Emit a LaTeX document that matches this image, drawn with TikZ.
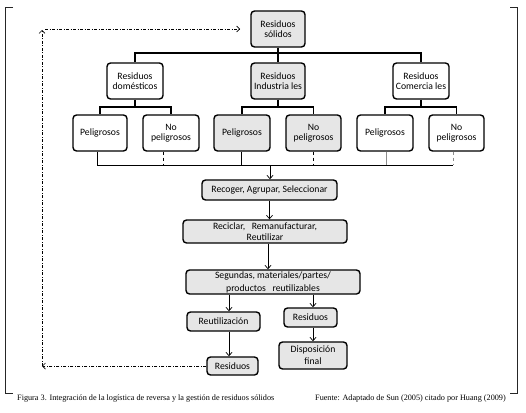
\documentclass[tikz,border=0pt]{standalone}
\usepackage{fontspec}
\setmainfont{Liberation Serif}
\newfontfamily\boxfont{Carlito}
\usetikzlibrary{arrows.meta,calc}
\definecolor{boxgray}{RGB}{230,230,230}
\begin{document}
\begin{tikzpicture}[x=1pt,y=-1pt,
  bx/.style={draw=black,line width=1.4pt,rounded corners=3.5pt,inner sep=0pt,
    align=center,font=\boxfont\fontsize{9.7}{10}\selectfont,fill=white},
  gr/.style={bx,fill=boxgray},
  tree/.style={line width=1.4pt},
  thinline/.style={line width=0.7pt},
  arr/.style={line width=0.7pt,-{Straight Barb[length=3.5pt,width=6pt]}},
  fb/.style={line width=0.7pt,dash pattern=on 3pt off 1.5pt on 1pt off 1.5pt},
  fba/.style={fb,-{Straight Barb[length=3pt,width=6pt]}},
  captext/.style={font=\fontsize{8.2}{9}\selectfont,inner sep=0pt}]
\useasboundingbox (0,0) rectangle (526,412);
% frame
\draw[line width=0.6pt,black!85] (13,7) -- (5.5,7) -- (5.5,393) -- (13,393);
\draw[line width=0.6pt,black!85] (510,7) -- (517,7) -- (517,393) -- (510,393);
% nodes
\node[gr,minimum width=54,minimum height=36] (sol) at (278,29) {Residuos\\sólidos};
\node[bx,minimum width=56,minimum height=36] (dom) at (135,81) {Residuos\\domésticos};
\node[gr,minimum width=54,minimum height=36] (ind) at (278,81) {Residuos\\Industria les};
\node[bx,minimum width=56,minimum height=36] (com) at (421,81) {Residuos\\Comercia les};
\node[bx,minimum width=54,minimum height=36] (p1) at (100,133) {Peligrosos};
\node[bx,minimum width=56,minimum height=36] (n1) at (171,133) {No\\peligrosos};
\node[gr,minimum width=56,minimum height=36] (p2) at (242,133) {Peligrosos};
\node[gr,minimum width=55,minimum height=36] (n2) at (313.5,133) {No\\peligrosos};
\node[bx,minimum width=56,minimum height=36] (p3) at (385,133) {Peligrosos};
\node[bx,minimum width=55,minimum height=36] (n3) at (456.5,133) {No\\peligrosos};
\node[gr,minimum width=135,minimum height=20] (rec) at (269.5,190) {Recoger, Agrupar, Seleccionar};
\node[gr,minimum width=164,minimum height=23,font=\boxfont\fontsize{9.7}{11.6}\selectfont] (rcl) at (265,231.5) {Reciclar,\ \ \ Remanufacturar,\\Reutilizar};
\node[gr,minimum width=174,minimum height=24,font=\boxfont\fontsize{9.7}{13}\selectfont] (seg) at (273,282) {Segundas, materiales/partes/\\productos\ \ \ reutilizables};
\node[gr,minimum width=73,minimum height=19] (reu) at (223.5,321.5) {Reutilización};
\node[gr,minimum width=53,minimum height=19] (res1) at (310.5,317.5) {Residuos};
\node[gr,minimum width=51,minimum height=18] (res2) at (232.5,366) {Residuos};
\node[gr,minimum width=68,minimum height=27,font=\boxfont\fontsize{9.7}{11.7}\selectfont] (dis) at (313,355.5) {Disposición\\final};
% tree connectors
\coordinate (b1) at (278,53);
\draw[tree] (sol) -- (b1);
\draw[tree] (b1) -| (dom);
\draw[tree] (b1) -| (com);
\draw[tree] (b1) -- (ind);
\coordinate (b2) at (135,107);
\coordinate (b3) at (278,107);
\coordinate (b4) at (421,107);
\draw[tree] (dom) -- (b2) -| (p1);
\draw[tree] (b2) -| (n1);
\draw[tree] (ind) -- (b3) -| (p2);
\draw[tree] (b3) -| (n2);
\draw[tree] (com) -- (b4) -| (p3);
\draw[tree] (b4) -| (n3);
% collecting bus
\coordinate (q1) at (97,165);
\coordinate (q2) at (163,165);
\coordinate (q3) at (241,165);
\coordinate (q4) at (313,165);
\coordinate (q5) at (386,165);
\coordinate (q6) at (453,165);
\coordinate (cm) at (270,165);
\draw[thinline] (p1.south -| q1) -- (q1) -- (q6);
\draw[thinline,dashed] (n1.south -| q2) -- (q2);
\draw[thinline] (p2.south -| q3) -- (q3);
\draw[thinline,dashed] (n2.south -| q4) -- (q4);
\draw[thinline,black!45] (p3.south -| q5) -- (q5);
\draw[thinline,black!45,dashed] (n3.south -| q6) -- (q6);
\draw[arr] (cm) -- (cm |- rec.north);
% flow arrows
\coordinate (a1) at (268,0);
\coordinate (a2) at (229,0);
\coordinate (a3) at (313,0);
\draw[arr] (rec.south) -- (rec.south |- rcl.north);
\draw[arr] (rcl.south -| a1) -- (seg.north -| a1);
\draw[arr] (seg.south -| a2) -- (reu.north -| a2);
\draw[arr] (seg.south -| a3) -- (res1.north -| a3);
\draw[arr] (reu.south -| a2) -- (res2.north -| a2);
\draw[arr] (res1.south -| a3) -- (dis.north -| a3);
% feedback loop
\coordinate (f1) at (42,366);
\coordinate (f2) at (42,30);
\coordinate (f3) at (45,29);
\coordinate (f4) at (240,29);
\draw[fba] (res2.west) -- (f1);
\draw[fba] (f1) -- (f2);
\draw[fba] (f3) -- (f4);
% captions
\node[captext,anchor=west] (capl) at (17,399) {Figura 3. Integración de la logística de reversa y la gestión de residuos sólidos};
\node[captext,anchor=east] (capr) at (506,399) {Fuente: Adaptado de Sun (2005) citado por Huang (2009)};
\end{tikzpicture}
\end{document}
